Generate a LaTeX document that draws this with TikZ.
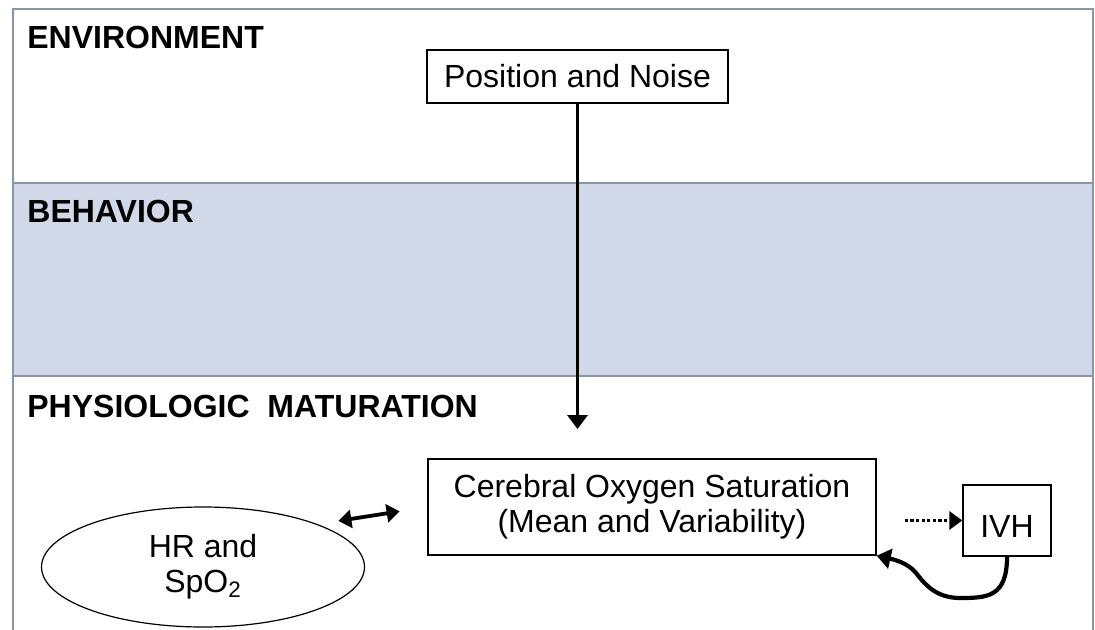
\documentclass[tikz,border=0pt]{standalone}
\usepackage{fontspec}
\setmainfont{Liberation Sans}
\usetikzlibrary{arrows.meta, positioning, shapes.geometric}
\definecolor{bandLine}{RGB}{138,150,168}
\definecolor{bandFill}{RGB}{209,216,231}

\begin{document}
\begin{tikzpicture}[
    x=0.5pt, y=-0.5pt,
    band/.style={draw=bandLine, line width=0.9pt},
    layerlabel/.style={anchor=base west, inner sep=0pt, font=\fontsize{16}{18}\selectfont\bfseries},
    box/.style={rectangle, draw=black, line width=0.7pt, fill=white, align=center, inner sep=0pt, font=\fontsize{16}{17.5}\selectfont},
    oval/.style={ellipse, draw=black, line width=0.6pt, fill=white, align=center, inner sep=0pt, font=\fontsize{16}{17.5}\selectfont},
    link/.style={line width=1.8pt, -{Triangle[width=10pt,length=7pt]}},
    duallink/.style={line width=1.9pt, {Triangle[width=9pt,length=6.5pt]}-{Triangle[width=9pt,length=6.5pt]}},
    dottedlink/.style={line width=1.9pt, dash pattern=on 1.6pt off 1.2pt, -{Triangle[width=9pt,length=6.5pt]}}
]
    % Canvas and layers
    \useasboundingbox (0,0) rectangle (1095,630);
    \fill[white] (0,0) rectangle (1095,630);
    \fill[bandFill] (13,183) rectangle (1093,376);
    \draw[band] (13,630) -- (13,9) -- (1093,9) -- (1093,630);
    \draw[band] (13,183) -- (1093,183);
    \draw[band] (13,376) -- (1093,376);

    \node[layerlabel] (environment) at (27,49) {ENVIRONMENT};
    \node[layerlabel] (behavior) at (27,223) {BEHAVIOR};
    \node[layerlabel] (maturation) at (27,417) {PHYSIOLOGIC\ \ MATURATION};

    % Factors
    \node[box, minimum width=150.5pt, minimum height=26.5pt] (noise) at (577.5,76.5) {Position and Noise};
    \node[box, minimum width=224pt, minimum height=48pt] (cerebral) at (652,507) {Cerebral Oxygen Saturation\\(Mean and Variability)};
    \node[box, minimum width=44pt, minimum height=35.5pt, text height=17pt, text depth=0pt] (ivh) at (1007,520.5) {IVH};
    \node[oval, minimum width=161.5pt, minimum height=60pt] (hr) at (203,567) {HR and\\SpO\textsubscript{2}};
    \coordinate (noiseEnd) at (577.5,429);

    % Connections
    \draw[link] (noise) -- (noiseEnd);
    \draw[duallink, shorten <=10.5pt, shorten >=14pt] (hr.north east) -- (cerebral.west);
    \draw[dottedlink, shorten <=14pt] (cerebral.east |- ivh.west) -- (ivh.west);
    \draw[link, line width=2.1pt] (ivh.south) .. controls +(0,40) and +(28,0) .. (960,598)
        .. controls +(-25,0) and +(8,10) .. (916,573)
        .. controls +(-8,-10) and +(18,4) .. (cerebral.south east);
\end{tikzpicture}
\end{document}
